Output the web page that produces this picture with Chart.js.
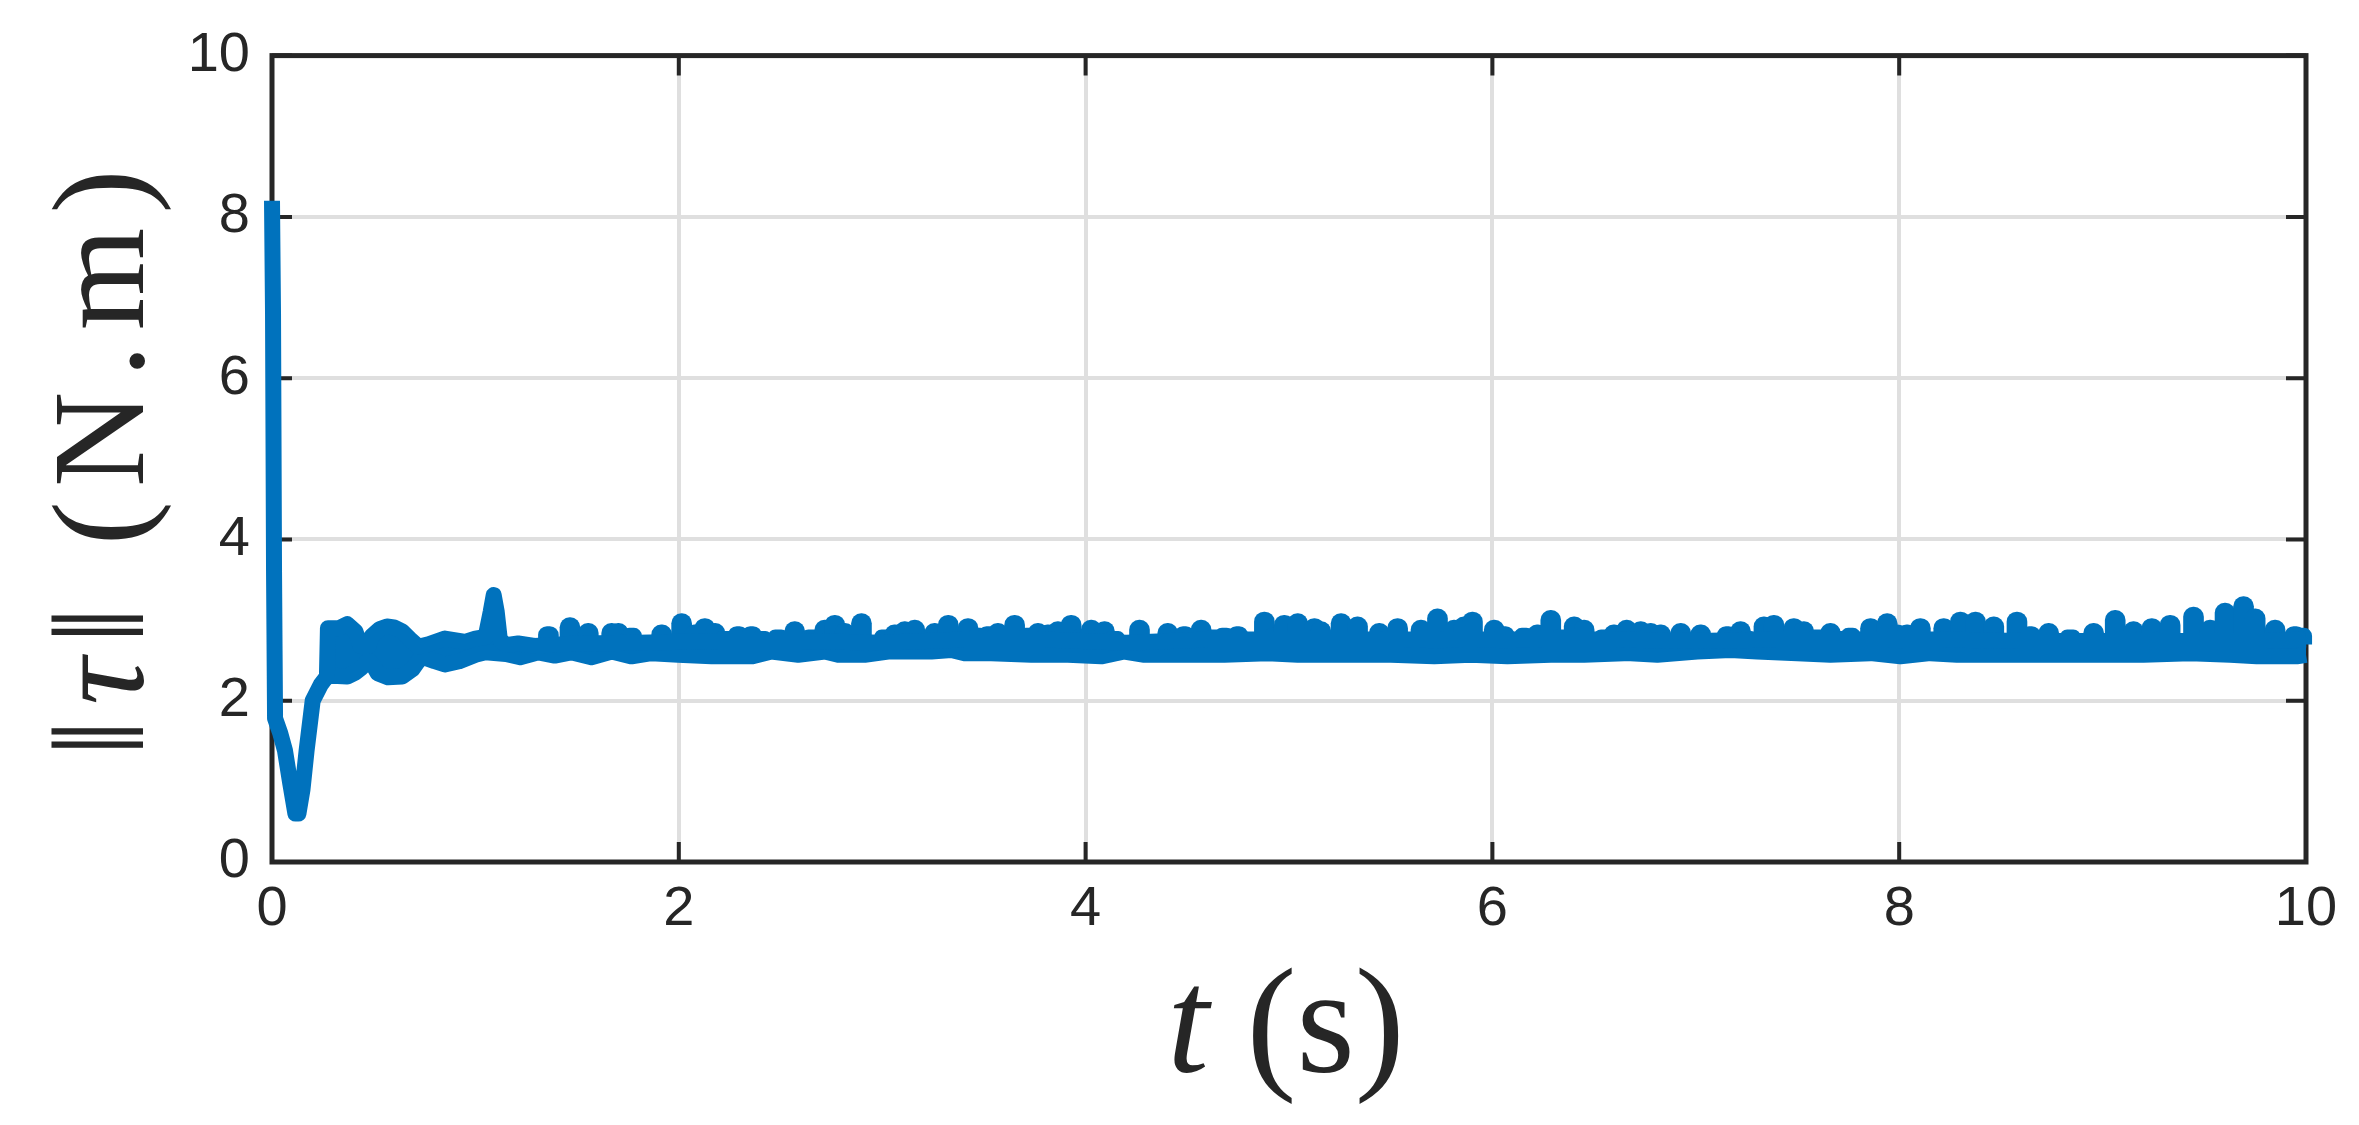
<!DOCTYPE html>
<html>
<head>
<meta charset="utf-8">
<script src="https://cdn.jsdelivr.net/npm/chart.js@4.4.1/dist/chart.umd.min.js"></script>
<style>
  html, body { margin: 0; padding: 0; background: #fff; }
  #wrap { width: 2359px; height: 1125px; }
</style>
</head>
<body>
<div id="wrap"><canvas id="torqueChart" width="2359" height="1125"></canvas></div>
<script>
const xTicks = [0, 2, 4, 6, 8, 10];
const yTicks = [0, 2, 4, 6, 8, 10];

// upper edge of the ||tau|| trace: start transient, then the floor between spikes (t in s, tau in N.m)
const tUpper = [
  0, 0.005, 0.01, 0.015, 0.04, 0.064, 0.09, 0.115, 0.13, 0.15, 0.17, 0.2, 0.24, 0.27,
  0.275, 0.33, 0.37, 0.41, 0.435, 0.475, 0.49, 0.53, 0.565, 0.6, 0.64, 0.68, 0.72, 0.77,
  0.85, 0.95, 1.0, 1.05, 1.075, 1.09, 1.105, 1.12, 1.15, 1.21, 1.29,
  1.5, 1.8, 2.2, 2.6, 3.0, 3.4, 3.8, 4.2, 4.6, 5.0, 5.4, 5.8, 6.2, 6.6, 7.0, 7.4, 7.8,
  8.2, 8.6, 9.0, 9.4, 9.8, 10.0
];
const tauUpper = [
  8.2, 6.8, 3.6, 1.78, 1.6, 1.38, 0.97, 0.6, 0.6, 0.9, 1.38, 2.0, 2.2, 2.3,
  2.9, 2.9, 2.95, 2.86, 2.68, 2.68, 2.8, 2.89, 2.92, 2.91, 2.86, 2.76, 2.67, 2.7,
  2.77, 2.73, 2.77, 2.79, 3.1, 3.31, 3.1, 2.76, 2.69, 2.71, 2.68,
  2.71, 2.72, 2.74, 2.74, 2.72, 2.76, 2.76, 2.72, 2.76, 2.76, 2.76, 2.76, 2.76, 2.76, 2.74, 2.76, 2.76,
  2.76, 2.74, 2.74, 2.74, 2.74, 2.76
];

// lower edge of the oscillating band
const tLower = [
  0.27, 0.3, 0.37, 0.41, 0.44, 0.475, 0.5, 0.52, 0.57, 0.64, 0.69, 0.735, 0.8, 0.85,
  0.92, 1.0, 1.05, 1.15, 1.22, 1.31, 1.39, 1.47, 1.57,
  1.67, 1.768, 1.866, 1.997, 2.161, 2.358, 2.456, 2.587, 2.718, 2.783, 2.914, 3.029,
  3.143, 3.242, 3.34, 3.405, 3.536, 3.733, 3.913, 4.077, 4.191, 4.289, 4.486, 4.682,
  4.895, 5.043, 5.305, 5.501, 5.714, 5.894, 6.074, 6.287, 6.451, 6.647, 6.68, 6.811,
  7.007, 7.171, 7.302, 7.499, 7.662, 7.859, 8.006, 8.153, 8.284, 8.366, 8.579, 8.743,
  8.972, 9.201, 9.431, 9.627, 9.758, 9.954, 10.0
];
const tauLower = [
  2.3, 2.31, 2.3, 2.35, 2.41, 2.5, 2.43, 2.34, 2.29, 2.3, 2.39, 2.55, 2.49, 2.45,
  2.49, 2.57, 2.6, 2.58, 2.54, 2.6, 2.56, 2.6, 2.54,
  2.61, 2.55, 2.59, 2.57, 2.55, 2.55, 2.61, 2.57, 2.61, 2.57, 2.57, 2.61,
  2.61, 2.61, 2.63, 2.59, 2.59, 2.57, 2.57, 2.55, 2.61, 2.57, 2.57, 2.57,
  2.59, 2.57, 2.57, 2.57, 2.55, 2.57, 2.55, 2.57, 2.57, 2.59, 2.59, 2.57,
  2.61, 2.63, 2.61, 2.59, 2.57, 2.59, 2.55, 2.59, 2.57, 2.57, 2.57, 2.57,
  2.57, 2.57, 2.59, 2.57, 2.55, 2.55, 2.57
];

// short spikes sticking out of the band: time and top value
const tPeak = [
  1.359, 1.465, 1.555, 1.67, 1.703, 1.768, 1.916, 2.014, 2.079, 2.128, 2.178, 2.227,
  2.292, 2.358, 2.407, 2.489, 2.57, 2.652, 2.718, 2.767, 2.816, 2.898, 3.012, 3.062,
  3.111, 3.16, 3.258, 3.325, 3.422, 3.471, 3.52, 3.569, 3.651, 3.717, 3.766, 3.815,
  3.864, 3.929, 3.979, 4.028, 4.093, 4.142, 4.265, 4.404, 4.453, 4.486, 4.568, 4.633,
  4.682, 4.748, 4.879, 4.928, 4.977, 5.043, 5.125, 5.157, 5.256, 5.337, 5.444, 5.485,
  5.534, 5.649, 5.73, 5.779, 5.812, 5.861, 5.902, 6.009, 6.058, 6.156, 6.222, 6.287,
  6.336, 6.402, 6.451, 6.549, 6.598, 6.66, 6.729, 6.778, 6.827, 6.926, 7.024, 7.155,
  7.22, 7.253, 7.335, 7.384, 7.433, 7.482, 7.531, 7.597, 7.662, 7.711, 7.761, 7.859,
  7.941, 7.99, 8.039, 8.104, 8.219, 8.301, 8.375, 8.465, 8.579, 8.645, 8.735, 8.841,
  8.956, 9.062, 9.103, 9.152, 9.201, 9.242, 9.291, 9.332, 9.447, 9.529, 9.602, 9.693,
  9.75, 9.848, 9.946, 9.979
];
const tauPeak = [
  2.92, 3.03, 2.96, 2.96, 2.96, 2.9, 2.94, 3.08, 2.94, 3.02, 2.96, 2.86,
  2.92, 2.92, 2.86, 2.88, 2.98, 2.88, 3.0, 3.06, 2.96, 3.08, 2.88, 2.94,
  2.98, 3.0, 2.96, 3.06, 3.02, 2.9, 2.92, 2.96, 3.06, 2.9, 2.96, 2.94,
  2.98, 3.06, 2.88, 3.0, 2.98, 2.86, 3.0, 2.96, 2.88, 2.92, 3.0, 2.88,
  2.9, 2.92, 3.1, 2.9, 3.06, 3.08, 3.02, 2.98, 3.08, 3.04, 2.96, 2.86,
  3.02, 3.0, 3.14, 2.86, 3.0, 3.04, 3.1, 3.0, 2.92, 2.9, 2.94, 3.12,
  2.88, 3.04, 3.0, 2.88, 2.94, 3.0, 2.98, 2.96, 2.94, 2.96, 2.94, 2.92,
  2.98, 2.86, 3.04, 3.06, 2.86, 3.02, 2.98, 2.88, 2.96, 2.86, 2.9, 3.02,
  3.08, 2.94, 2.94, 3.02, 3.02, 3.1, 3.1, 3.04, 3.1, 2.92, 2.96, 2.88,
  2.96, 3.12, 2.86, 2.98, 2.86, 3.02, 2.86, 3.06, 3.16, 3.0, 3.21, 3.29,
  3.14, 3.0, 2.92, 2.9
];
const peakFoot = 2.7;

const blue = '#0072BD';
const dark = '#262626';
const lineW = 16;

// box, inward ticks on all four sides
const frame = {
  id: 'frame',
  beforeDatasetsDraw(chart) {
    const { ctx, chartArea: a, scales } = chart;
    ctx.save();
    ctx.strokeStyle = dark;
    ctx.lineWidth = 4;
    ctx.beginPath();
    xTicks.forEach(v => {
      const px = scales.x.getPixelForValue(v);
      ctx.moveTo(px, a.bottom); ctx.lineTo(px, a.bottom - 20);
      ctx.moveTo(px, a.top); ctx.lineTo(px, a.top + 20);
    });
    yTicks.forEach(v => {
      const py = scales.y.getPixelForValue(v);
      ctx.moveTo(a.left, py); ctx.lineTo(a.left + 20, py);
      ctx.moveTo(a.right, py); ctx.lineTo(a.right - 20, py);
    });
    ctx.stroke();
    ctx.lineWidth = 5;
    ctx.strokeRect(a.left, a.top, a.right - a.left, a.bottom - a.top);
    ctx.restore();
  }
};

// axis titles with italic math symbols, stretched by letter gaps to a given length
function drawParts(ctx, parts, size, length) {
  const chars = [];
  parts.forEach(p => {
    const font = (p[1] ? 'italic ' : '') + size + 'px "Liberation Serif", "DejaVu Serif", serif';
    for (const ch of p[0]) {
      ctx.font = font;
      chars.push({ ch, font, w: ctx.measureText(ch).width });
    }
  });
  const natural = chars.reduce((s, c) => s + c.w, 0);
  const gap = length ? (length - natural) / (chars.length - 1) : 0;
  let x = -(natural + gap * (chars.length - 1)) / 2;
  chars.forEach(c => {
    ctx.font = c.font;
    ctx.fillText(c.ch, x, 0);
    x += c.w + gap;
  });
}
const titles = {
  id: 'titles',
  afterDraw(chart) {
    const { ctx, chartArea: a } = chart;
    ctx.save();
    ctx.fillStyle = dark;
    ctx.textBaseline = 'alphabetic';
    ctx.textAlign = 'left';
    ctx.translate((a.left + a.right) / 2 - 3, 1072);
    drawParts(ctx, [['t', true], [' (s)', false]], 150, 0);
    ctx.restore();
    ctx.save();
    ctx.fillStyle = dark;
    ctx.textBaseline = 'alphabetic';
    ctx.textAlign = 'left';
    ctx.translate(143, 463);
    ctx.rotate(-Math.PI / 2);
    drawParts(ctx, [['\u2016', false], ['\u03c4', true], ['\u2016', false], [' (N.m)', false]], 132, 587);
    ctx.restore();
  }
};

const ctx = document.getElementById('torqueChart').getContext('2d');
new Chart(ctx, {
  type: 'line',
  data: {
    datasets: [
      {
        data: tUpper.map((t, i) => ({ x: t, y: tauUpper[i] })),
        borderColor: blue,
        borderWidth: lineW,
        borderJoinStyle: 'round',
        pointRadius: 0,
        fill: false,
        clip: false,
      },
      {
        data: tLower.map((t, i) => ({ x: t, y: tauLower[i] })),
        borderColor: blue,
        backgroundColor: blue,
        borderWidth: lineW,
        borderJoinStyle: 'round',
        pointRadius: 0,
        fill: '-1',
        clip: false,
      },
      {
        type: 'bar',
        data: tPeak.map((t, i) => ({ x: t, y: [peakFoot, tauPeak[i]] })),
        backgroundColor: blue,
        borderWidth: 0,
        barThickness: 20,
        borderRadius: 10,
        borderSkipped: 'start',
        clip: false,
      },
    ],
  },
  options: {
    responsive: false,
    animation: false,
    devicePixelRatio: 1,
    layout: { padding: { left: 0, top: 50, right: 53, bottom: 0 } },
    plugins: { legend: { display: false }, tooltip: { enabled: false } },
    scales: {
      x: {
        type: 'linear',
        min: 0,
        max: 10,
        offset: false,
        afterBuildTicks: s => { s.ticks = xTicks.map(v => ({ value: v })); },
        afterFit: s => { s.height = 263; },
        grid: { color: '#dfdfdf', lineWidth: 4, drawTicks: false, offset: false },
        border: { display: false },
        ticks: { color: dark, padding: 14, maxRotation: 0, font: { family: '"Liberation Sans", Arial, sans-serif', size: 56 } },
      },
      y: {
        type: 'linear',
        min: 0,
        max: 10,
        afterBuildTicks: s => { s.ticks = yTicks.map(v => ({ value: v })); },
        afterFit: s => { s.width = 272; },
        grid: { color: '#dfdfdf', lineWidth: 4, drawTicks: false },
        border: { display: false },
        ticks: { color: dark, padding: 22, font: { family: '"Liberation Sans", Arial, sans-serif', size: 56 } },
      },
    },
  },
  plugins: [frame, titles],
});
</script>
</body>
</html>
